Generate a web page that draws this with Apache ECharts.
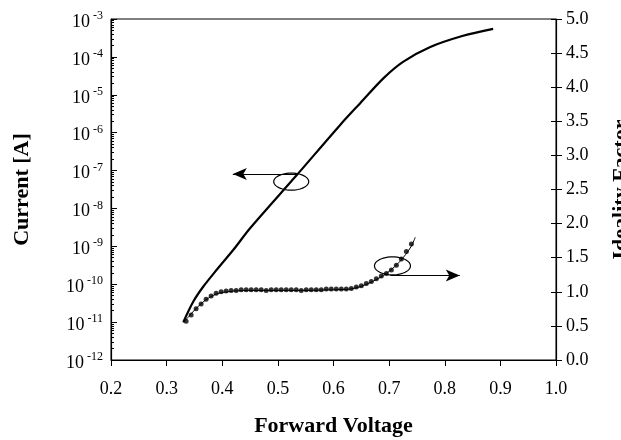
<!DOCTYPE html>
<html>
<head>
<meta charset="utf-8">
<script src="https://cdn.jsdelivr.net/npm/echarts@6/dist/echarts.min.js"></script>
<style>
html, body { margin: 0; padding: 0; background: #fff; }
#main { width: 621px; height: 440px; }
</style>
</head>
<body>
<div id="main"></div>
<script>
var chart = echarts.init(document.getElementById('main'));
var FONT = 'Liberation Serif';

// I-V curve (left axis, log)
var ivVolt = [0.330, 0.348, 0.366, 0.390, 0.420, 0.450, 0.534, 0.612, 0.648, 0.690, 0.725, 0.773, 0.833, 0.887];
var ivCurrent = [1.0e-11, 3.5e-11, 8.7e-11, 2.4e-10, 8.1e-10, 3.0e-9, 7.6e-8, 1.6e-6, 6.0e-6, 2.75e-5, 7.4e-5, 1.8e-4, 3.6e-4, 5.5e-4];

// ideality factor, measured points (right axis)
var nVolt = [0.335, 0.344, 0.353, 0.362, 0.371, 0.380, 0.389, 0.398, 0.407, 0.416,
  0.425, 0.434, 0.443, 0.452, 0.461, 0.470, 0.479, 0.488, 0.497, 0.506, 0.515,
  0.524, 0.533, 0.542, 0.551, 0.560, 0.569, 0.578, 0.587, 0.596, 0.605, 0.614,
  0.623, 0.632, 0.641, 0.650, 0.659, 0.668, 0.677, 0.686, 0.695, 0.704, 0.713,
  0.722, 0.731, 0.740];
var nValue = [0.57, 0.66, 0.75, 0.82, 0.89, 0.94, 0.98, 1.00, 1.01, 1.02,
  1.02, 1.03, 1.03, 1.03, 1.03, 1.03, 1.02, 1.03, 1.03, 1.03, 1.03,
  1.03, 1.03, 1.02, 1.03, 1.03, 1.03, 1.03, 1.04, 1.04, 1.04, 1.04,
  1.04, 1.05, 1.07, 1.09, 1.12, 1.15, 1.19, 1.23, 1.27, 1.32, 1.39,
  1.48, 1.59, 1.70];

// ideality factor, fitted line
var fitVolt = [0.330, 0.340, 0.350, 0.360, 0.370, 0.380, 0.390, 0.400, 0.420, 0.450, 0.500, 0.550, 0.600, 0.630, 0.650, 0.670, 0.690, 0.700, 0.710, 0.720, 0.730, 0.740, 0.747];
var fitValue = [0.55, 0.64, 0.73, 0.81, 0.88, 0.93, 0.97, 0.99, 1.01, 1.02, 1.02, 1.02, 1.03, 1.04, 1.08, 1.15, 1.24, 1.30, 1.37, 1.45, 1.55, 1.67, 1.80];

// annotation anchors [volt, value]
var ivMarker = [0.524, 5.1e-8];
var ivArrow = [0.534, 0.419, 8.1e-8];
var nMarker = [0.706, 1.38];
var nArrow = [0.702, 0.827, 1.24];

// minor log ticks, in decade units
var minorTicks = [];
for (var e = -12; e < -3; e++) {
  for (var k = 2; k <= 9; k++) minorTicks.push(e + Math.log10(k));
}

function pairs(xs, ys) {
  var r = [];
  for (var i = 0; i < xs.length; i++) r.push([xs[i], ys[i]]);
  return r;
}

var labelStyle = { color: '#000', fontFamily: FONT, fontSize: 18 };
var nameStyle = { color: '#000', fontFamily: FONT, fontSize: 22, fontWeight: 'bold' };

var option = {
  animation: false,
  backgroundColor: '#fff',
  grid: {
    left: 111, right: 65, top: 19, bottom: 80,
    containLabel: false, outerBoundsMode: 'none',
    show: true, borderColor: '#000', borderWidth: 1
  },
  xAxis: {
    type: 'value', min: 0.2, max: 1.0, interval: 0.1,
    name: 'Forward Voltage', nameLocation: 'middle', nameGap: 55, nameTextStyle: nameStyle,
    axisLine: { lineStyle: { color: '#000', width: 1.2 } },
    axisTick: { inside: false, length: 6, lineStyle: { color: '#000' } },
    axisLabel: Object.assign({ margin: 20, formatter: function (v) { return v.toFixed(1); } }, labelStyle),
    splitLine: { show: false }
  },
  yAxis: [
    {
      type: 'log', logBase: 10, min: 1e-12, max: 1e-3, splitNumber: 9, position: 'left',
      name: 'Current [A]', nameLocation: 'middle', nameGap: 78, nameRotate: 90, nameTextStyle: nameStyle,
      axisLine: { show: true, lineStyle: { color: '#000', width: 1.2 } },
      axisTick: { inside: true, length: 6, lineStyle: { color: '#000' } },
      axisLabel: {
        margin: 8,
        formatter: function (v) {
          var ex = Math.round(Math.log10(v));
          return '{b|10}{s|' + ex + '}';
        },
        rich: {
          b: { fontFamily: FONT, fontSize: 18, color: '#000', lineHeight: 18, padding: [6, 0, 0, 0] },
          s: { fontFamily: FONT, fontSize: 12, color: '#000', lineHeight: 12, verticalAlign: 'top', padding: [0, 0, 0, 3] }
        }
      },
      splitLine: { show: false }
    },
    {
      type: 'value', min: 0, max: 5, interval: 0.5, position: 'right',
      name: 'Ideality Factor', nameLocation: 'middle', nameGap: 54, nameRotate: 90, nameTextStyle: nameStyle,
      axisLine: { show: true, lineStyle: { color: '#000', width: 1.2 } },
      axisTick: { inside: false, length: 6, lineStyle: { color: '#000' } },
      axisLabel: Object.assign({ margin: 10, formatter: function (v) { return v.toFixed(1); } }, labelStyle),
      splitLine: { show: false }
    },
    {
      type: 'value', min: -12, max: -3, position: 'left',
      axisLine: { show: false },
      axisTick: { show: true, inside: true, length: 3, customValues: minorTicks, lineStyle: { color: '#000' } },
      axisLabel: { show: false },
      splitLine: { show: false }
    },
    {
      type: 'value', min: 0, max: 5, interval: 0.5, position: 'right',
      axisLine: { show: false },
      axisTick: { show: true, inside: true, length: 5, lineStyle: { color: '#000' } },
      axisLabel: { show: false },
      splitLine: { show: false }
    }
  ],
  series: [
    {
      name: 'Current', type: 'line', yAxisIndex: 0, data: pairs(ivVolt, ivCurrent),
      smooth: 0.3, showSymbol: false, lineStyle: { color: '#000', width: 2.2 },
      markLine: {
        silent: true, symbol: ['none', 'arrow'], symbolSize: [9, 14], label: { show: false },
        lineStyle: { color: '#000', width: 1.2, type: 'solid' },
        data: [[{ coord: [ivArrow[0], ivArrow[2]] }, { coord: [ivArrow[1], ivArrow[2]] }]]
      }
    },
    {
      name: 'Fit', type: 'line', yAxisIndex: 1, data: pairs(fitVolt, fitValue),
      smooth: 0.3, showSymbol: false, lineStyle: { color: '#000', width: 1 },
      markLine: {
        silent: true, symbol: ['none', 'arrow'], symbolSize: [9, 14], label: { show: false },
        lineStyle: { color: '#000', width: 1.2, type: 'solid' },
        data: [[{ coord: [nArrow[0], nArrow[2]] }, { coord: [nArrow[1], nArrow[2]] }]]
      }
    },
    {
      name: 'Ideality', type: 'scatter', yAxisIndex: 1, data: pairs(nVolt, nValue),
      symbol: 'circle', symbolSize: 5, itemStyle: { color: '#000' }
    }
  ]
};
chart.setOption(option);

function ellipse(c, rx, ry) {
  var pts = [];
  for (var i = 0; i < 48; i++) {
    var a = i / 48 * Math.PI * 2;
    pts.push([c[0] + rx * Math.cos(a), c[1] + ry * Math.sin(a)]);
  }
  return {
    type: 'polygon', silent: true, z: 100,
    shape: { points: pts },
    style: { fill: 'none', stroke: '#000', lineWidth: 1.2 }
  };
}

var c1 = chart.convertToPixel({ xAxisIndex: 0, yAxisIndex: 0 }, ivMarker);
var c2 = chart.convertToPixel({ xAxisIndex: 0, yAxisIndex: 1 }, nMarker);
chart.setOption({ graphic: [ellipse(c1, 17.5, 8.5), ellipse(c2, 18, 9)] });
</script>
</body>
</html>
